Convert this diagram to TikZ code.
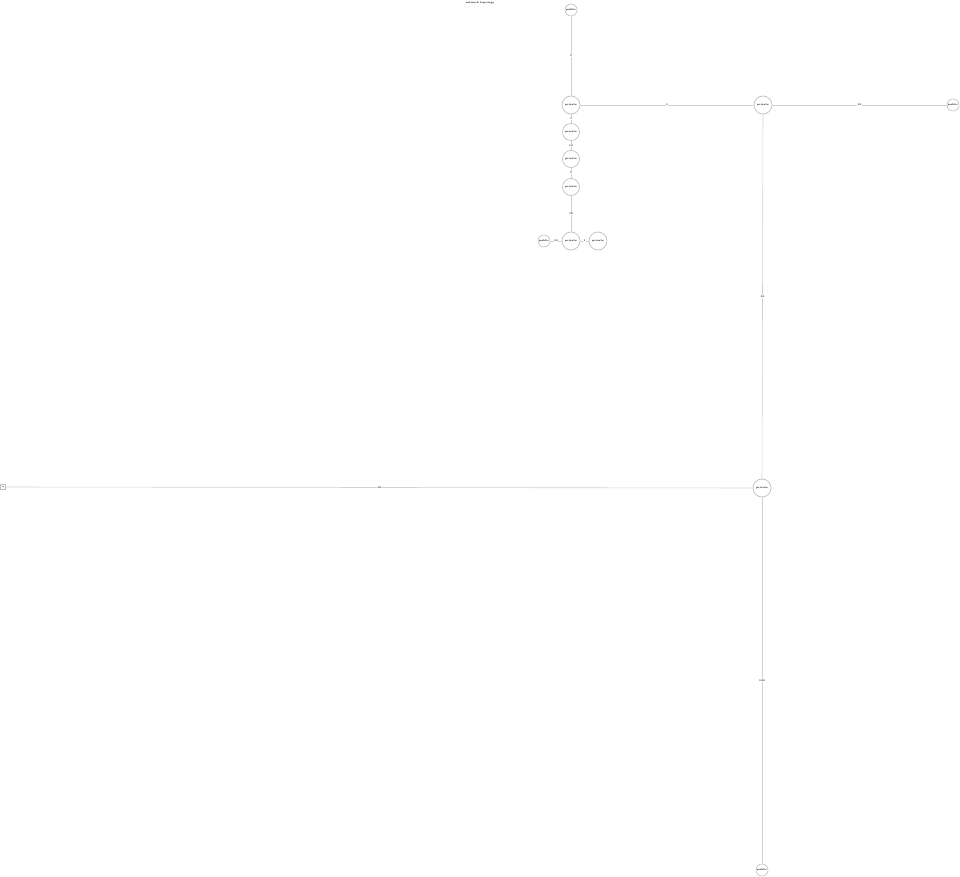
\documentclass[tikz,border=0pt]{standalone}
\usepackage{xcolor}
\begin{document}
\begin{tikzpicture}[
    x=1pt, y=-1pt,
    line cap=round,
    tiny text/.style={font=\fontsize{2.5}{3}\selectfont\bfseries},
    host/.style={circle, draw=black!25, line width=0.6pt, minimum size=12pt, inner sep=0pt, tiny text},
    router/.style={circle, draw=black!25, line width=0.7pt, minimum size=18pt, inner sep=0pt, tiny text},
    term/.style={rectangle, draw=black!25, line width=0.5pt, minimum size=5pt, inner sep=0pt, tiny text},
    link/.style={draw=black!18, line width=0.6pt},
    weight/.style={tiny text, fill=white, inner sep=0.3pt}
]
  % canvas
  \useasboundingbox (0,0) rectangle (960,877);

  % title
  \node[tiny text] (title) at (480,3) {network topology};

  % upper column
  \node[host]   (top)  at (571,10)  {public};
  \node[router] (r1)   at (571,105) {private};
  \node[router, minimum size=17pt] (r2) at (571,132) {private};
  \node[router, minimum size=17pt] (r3) at (571,159) {private};
  \node[router, minimum size=17pt] (r4) at (571,187) {private};
  \node[router] (r5)   at (571,241) {private};
  \node[host]   (west) at (544,241) {public};
  \node[router] (r5e)  at (598,241) {private};

  % right branch
  \node[router] (hub)  at (763,105) {private};
  \node[host]   (east) at (953,105) {public};
  \node[router] (core) at (762,488) {private};
  \node[host]   (sth)  at (762,870) {public};
  \node[term]   (far)  at (3,487)   {x};

  % links with weights
  \draw[link] (top) -- node[weight] {1} (r1);
  \draw[link] (r1) -- node[weight] {1} (r2);
  \draw[link] (r2) -- node[weight] {10} (r3);
  \draw[link] (r3) -- node[weight] {1} (r4);
  \draw[link] (r4) -- node[weight] {10} (r5);
  \draw[link] (west) -- node[weight] {10} (r5);
  \draw[link] (r5) -- node[weight] {1} (r5e);
  \draw[link] (r1) -- node[weight] {1} (hub);
  \draw[link] (hub) -- node[weight] {10} (east);
  \draw[link] (hub) -- node[weight] {10} (core);
  \draw[link] (far) -- node[weight] {10} (core);
  \draw[link] (core) -- node[weight] {100} (sth);
\end{tikzpicture}
\end{document}
